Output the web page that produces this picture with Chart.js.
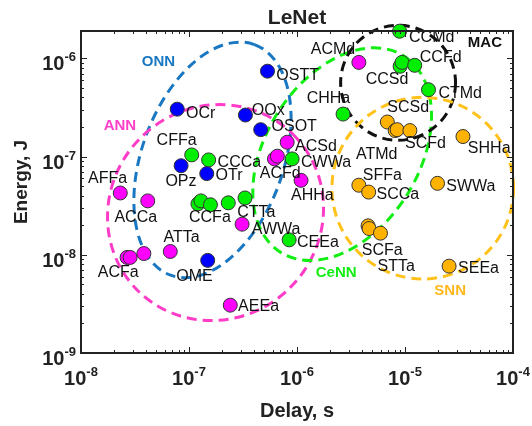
<!DOCTYPE html>
<html lang="en">
<head>
  <meta charset="UTF-8" />
  <title>LeNet</title>
  <script src="https://cdn.jsdelivr.net/npm/chart.js"></script>
  <style>
    body {
      margin: 0;
      background: #fff;
    }
    #box {
      width: 532px;
      height: 426px;
    }
  </style>
</head>
<body>
  <div id="box"><canvas id="lenetChart" width="532" height="426"></canvas></div>

  <script>
    // axis ticks (decade exponents)
    const xTickExps = [-8, -7, -6, -5, -4];
    const yTickExps = [-9, -8, -7, -6];

    // ONN: OSTT, OCr, OOx, OSOT, OPz, OTr, OME
    const onnDelay = [5.33e-7, 7.78e-8, 3.33e-7, 4.61e-7, 8.45e-8, 1.46e-7, 1.49e-7];
    const onnEnergy = [7.41e-7, 3.04e-7, 2.65e-7, 1.88e-7, 8.07e-8, 6.71e-8, 8.77e-9];

    // CeNN
    const cennDelay = [1.06e-7, 1.52e-7, 1.21e-7, 1.29e-7, 1.58e-7, 2.31e-7, 3.30e-7, 9.01e-7, 8.46e-7, 2.67e-6, 9.01e-6, 9.39e-6, 1.23e-5, 8.91e-6, 1.65e-5];
    const cennEnergy = [1.04e-7, 9.25e-8, 3.30e-8, 3.54e-8, 3.23e-8, 3.38e-8, 3.79e-8, 9.47e-8, 1.42e-8, 2.71e-7, 8.31e-7, 9.1e-7, 8.5e-7, 1.89e-6, 4.8e-7];

    // ANN
    const annDelay = [2.31e-8, 4.15e-8, 2.67e-8, 2.85e-8, 3.82e-8, 6.71e-8, 2.41e-7, 3.10e-7, 6.18e-7, 6.58e-7, 8.11e-7, 1.09e-6, 3.74e-6];
    const annEnergy = [4.26e-8, 3.54e-8, 9.4e-9, 9.4e-9, 1.03e-8, 1.08e-8, 3.07e-9, 2.05e-8, 9.47e-8, 1.01e-7, 1.40e-7, 5.73e-8, 9.1e-7];

    // SNN
    const snnDelay = [6.86e-6, 8.11e-6, 8.45e-6, 1.11e-5, 3.44e-5, 3.74e-6, 4.61e-6, 2.0e-5, 4.55e-6, 4.65e-6, 5.93e-6, 2.56e-5];
    const snnEnergy = [2.25e-7, 1.84e-7, 1.88e-7, 1.84e-7, 1.6e-7, 5.11e-8, 4.35e-8, 5.34e-8, 1.97e-8, 1.85e-8, 1.66e-8, 7.66e-9];

    // point names and where they sit
    const names = ['OSTT', 'OCr', 'OOx', 'OSOT', 'OPz', 'OTr', 'OME',
      'CFFa', 'CCCa', 'CCFa', 'CTTa', 'CWWa', 'CEEa', 'CHHa', 'CCSd', 'CCMd', 'CCFd', 'CTMd',
      'AFFa', 'ACCa', 'ACFa', 'ATTa', 'AEEa', 'AWWa', 'ACFd', 'ACSd', 'AHHa', 'ACMd', 'ATMd',
      'SCSd', 'SCFd', 'SHHa', 'SFFa', 'SCCa', 'SWWa', 'SCFa', 'STTa', 'SEEa'];
    const nameDelay = [6.44e-7, 9.4e-8, 3.82e-7, 5.81e-7, 6.05e-8, 1.76e-7, 7.62e-8,
      5.01e-8, 1.84e-7, 1e-7, 2.79e-7, 1.09e-6, 1e-6, 1.23e-6, 4.33e-6, 1.09e-5, 1.37e-5, 2.04e-5,
      1.16e-8, 2.04e-8, 1.43e-8, 5.8e-8, 2.85e-7, 3.82e-7, 4.52e-7, 9.59e-7, 8.81e-7, 1.34e-6, 3.51e-6,
      6.86e-6, 1e-5, 3.82e-5, 4.07e-6, 5.45e-6, 2.41e-5, 3.98e-6, 5.56e-6, 3.1e-5];
    const nameEnergy = [6.61e-7, 2.77e-7, 2.97e-7, 2.01e-7, 5.6e-8, 6.41e-8, 5.96e-9,
      1.46e-7, 8.63e-8, 2.4e-8, 2.69e-8, 8.63e-8, 1.32e-8, 3.91e-7, 6.04e-7, 1.61e-6, 1.02e-6, 4.38e-7,
      6.0e-8, 2.4e-8, 6.52e-9, 1.49e-8, 3.0e-9, 1.82e-8, 6.71e-8, 1.27e-7, 3.97e-8, 1.22e-6, 1.06e-7,
      3.18e-7, 1.36e-7, 1.22e-7, 6.41e-8, 4.06e-8, 4.99e-8, 1.1e-8, 7.66e-9, 7.31e-9];

    // group outlines: centre, semi-axes in decades, tilt in degrees
    const groups = ['ONN', 'ANN', 'CeNN', 'MAC', 'SNN'];
    const groupDelay = [1.65e-7, 1.76e-7, 2.62e-6, 8.63e-6, 1.46e-5];
    const groupEnergy = [9.25e-8, 2.69e-8, 1.06e-7, 5.64e-7, 4.77e-8];
    const groupA = [1.136, 1.02, 1.073, 0.532, 0.841];
    const groupB = [0.655, 0.98, 0.709, 0.532, 0.841];
    const groupTilt = [70, 45, 58, 0, 0];
    const groupTextDelay = [3.66e-8, 1.62e-8, 1.49e-6, 3.82e-5, 1.87e-5];
    const groupTextEnergy = [9.31e-7, 2.06e-7, 6.52e-9, 1.44e-6, 4.33e-9];

    const ringColors = ['#1a78c2', '#ff3cc8', '#11ee11', '#111111', '#ffc11a'];
    const textColors = ['#1a78c2', '#ff40c8', '#11ee11', '#111111', '#ffb81a'];

    function pts(xs, ys) {
      return xs.map((x, i) => ({ x: x, y: ys[i] }));
    }

    function sup(ctx, base, exp, x, y, align) {
      ctx.font = 'bold 20px "Liberation Sans", Arial, sans-serif';
      const wb = ctx.measureText(base).width;
      ctx.font = 'bold 13px "Liberation Sans", Arial, sans-serif';
      const we = ctx.measureText(exp).width;
      let left = align === 'right' ? x - wb - we : x - (wb + we) / 2;
      ctx.textAlign = 'left';
      ctx.textBaseline = 'alphabetic';
      ctx.font = 'bold 20px "Liberation Sans", Arial, sans-serif';
      ctx.fillText(base, left, y);
      ctx.font = 'bold 13px "Liberation Sans", Arial, sans-serif';
      ctx.fillText(exp, left + wb, y - 9);
    }

    const rings = {
      id: 'rings',
      beforeDatasetsDraw(chart) {
        const { ctx, scales: { x, y } } = chart;
        ctx.save();
        ctx.lineWidth = 3;
        ctx.setLineDash([10, 6]);
        groups.forEach((g, i) => {
          const cx = x.getPixelForValue(groupDelay[i]);
          const cy = y.getPixelForValue(groupEnergy[i]);
          const dec = x.getPixelForValue(groupDelay[i] * 10) - cx;
          ctx.strokeStyle = ringColors[i];
          ctx.beginPath();
          ctx.ellipse(cx, cy, groupA[i] * dec, groupB[i] * dec, -groupTilt[i] * Math.PI / 180, 0, 2 * Math.PI);
          ctx.stroke();
        });
        ctx.restore();
      },
      afterDatasetsDraw(chart) {
        const { ctx, chartArea: a, scales: { x, y } } = chart;
        ctx.save();
        // point names
        ctx.fillStyle = '#111';
        ctx.font = '16px "Liberation Sans", Arial, sans-serif';
        ctx.textAlign = 'left';
        ctx.textBaseline = 'middle';
        names.forEach((n, i) => {
          ctx.fillText(n, x.getPixelForValue(nameDelay[i]), y.getPixelForValue(nameEnergy[i]));
        });
        // group names
        ctx.font = 'bold 15px "Liberation Sans", Arial, sans-serif';
        groups.forEach((g, i) => {
          ctx.fillStyle = textColors[i];
          ctx.fillText(g, x.getPixelForValue(groupTextDelay[i]), y.getPixelForValue(groupTextEnergy[i]));
        });

        // frame and inward ticks
        ctx.strokeStyle = '#222';
        ctx.lineWidth = 2;
        ctx.strokeRect(a.left, a.top, a.right - a.left, a.bottom - a.top);
        ctx.lineWidth = 1;
        ctx.beginPath();
        for (let e = xTickExps[0]; e <= xTickExps[xTickExps.length - 1]; e++) {
          for (let m = 1; m <= 9; m++) {
            const v = m * Math.pow(10, e);
            if (v > x.max * 1.0001) break;
            const px = Math.round(x.getPixelForValue(v)) + 0.5;
            const len = m === 1 ? 6 : 3;
            ctx.moveTo(px, a.bottom); ctx.lineTo(px, a.bottom - len);
            ctx.moveTo(px, a.top); ctx.lineTo(px, a.top + len);
          }
        }
        for (let e = yTickExps[0]; e <= yTickExps[yTickExps.length - 1]; e++) {
          for (let m = 1; m <= 9; m++) {
            const v = m * Math.pow(10, e);
            if (v > y.max) break;
            const py = Math.round(y.getPixelForValue(v)) + 0.5;
            const len = m === 1 ? 6 : 3;
            ctx.moveTo(a.left, py); ctx.lineTo(a.left + len, py);
            ctx.moveTo(a.right, py); ctx.lineTo(a.right - len, py);
          }
        }
        ctx.stroke();

        // tick labels
        ctx.fillStyle = '#222';
        xTickExps.forEach(e => {
          sup(ctx, '10', String(e), x.getPixelForValue(Math.pow(10, e)), a.bottom + 32, 'center');
        });
        yTickExps.forEach(e => {
          sup(ctx, '10', String(e), a.left - 5, y.getPixelForValue(Math.pow(10, e)) + 12, 'right');
        });

        // titles
        ctx.textAlign = 'center';
        ctx.textBaseline = 'alphabetic';
        ctx.font = 'bold 21px "Liberation Sans", Arial, sans-serif';
        ctx.fillText('LeNet', (a.left + a.right) / 2, 24);
        ctx.font = 'bold 20px "Liberation Sans", Arial, sans-serif';
        ctx.fillText('Delay, s', (a.left + a.right) / 2, 417);
        ctx.translate(27, 182);
        ctx.rotate(-Math.PI / 2);
        ctx.font = 'bold 19px "Liberation Sans", Arial, sans-serif';
        ctx.fillText('Energy, J', 0, 0);
        ctx.restore();
      }
    };

    const dot = { pointRadius: 7, pointHoverRadius: 7, borderColor: '#333', borderWidth: 1, clip: false };

    new Chart(document.getElementById('lenetChart'), {
      type: 'scatter',
      data: {
        datasets: [
          Object.assign({ label: 'ONN', data: pts(onnDelay, onnEnergy), backgroundColor: '#0000ff' }, dot),
          Object.assign({ label: 'CeNN', data: pts(cennDelay, cennEnergy), backgroundColor: '#00ee00' }, dot),
          Object.assign({ label: 'ANN', data: pts(annDelay, annEnergy), backgroundColor: '#ff00ff' }, dot),
          Object.assign({ label: 'SNN', data: pts(snnDelay, snnEnergy), backgroundColor: '#ffb300' }, dot)
        ]
      },
      options: {
        responsive: false,
        animation: false,
        events: [],
        layout: { padding: { left: 73, right: 19, top: 31, bottom: 65 } },
        plugins: {
          legend: { display: false },
          tooltip: { enabled: false },
          title: { display: false }
        },
        scales: {
          x: {
            type: 'logarithmic', min: 1e-8, max: 1e-4,
            ticks: { display: false },
            grid: { display: false },
            border: { display: false }
          },
          y: {
            type: 'logarithmic', min: 1e-9, max: 1.9e-6,
            ticks: { display: false },
            grid: { display: false },
            border: { display: false }
          }
        }
      },
      plugins: [rings]
    });
  </script>
</body>
</html>
